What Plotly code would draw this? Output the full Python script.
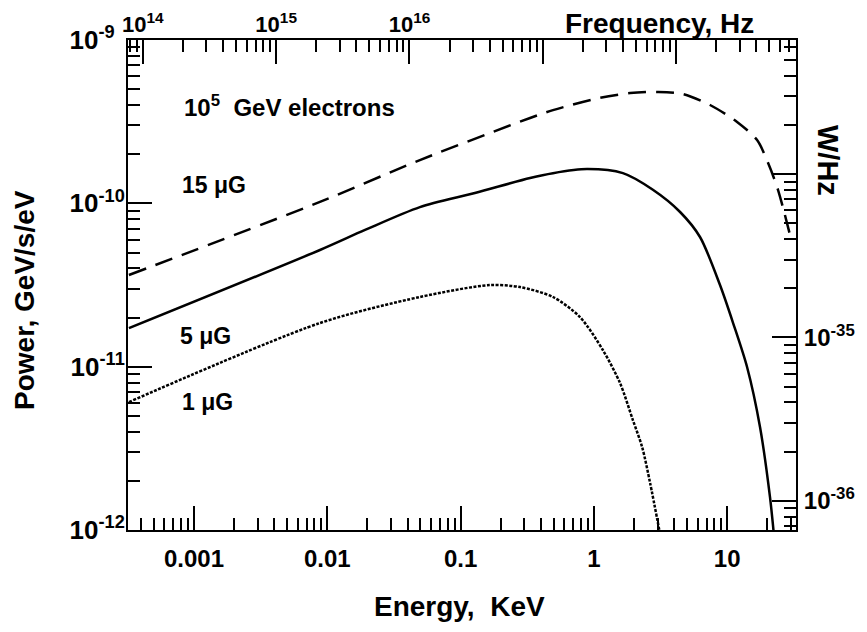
import plotly.graph_objects as go

# photon energy (keV) and emitted power (GeV/s/eV)
E_15UG = [3.25e-4, 8.81e-3, 0.0495, 0.332, 0.493, 1.11, 1.87, 3.03, 4.66, 7.43, 11.86, 16.75, 20.23, 24.04, 29.58]
P_15UG = [3.64e-11, 1.02e-10, 1.84e-10, 3.33e-10, 3.72e-10, 4.42e-10, 4.73e-10, 4.81e-10, 4.67e-10,
          4.00e-10, 3.15e-10, 2.44e-10, 1.77e-10, 1.21e-10, 6.40e-11]

E_5UG = [3.25e-4, 8.81e-3, 0.0192, 0.0495, 0.128, 0.332, 0.493, 0.887, 1.65, 2.77, 4.43, 6.25, 8.83,
         11.07, 14.09, 17.62, 20.94, 22.5]
P_5UG = [1.72e-11, 5.18e-11, 6.87e-11, 9.48e-11, 1.156e-10, 1.43e-10, 1.53e-10, 1.62e-10, 1.53e-10,
         1.21e-10, 8.85e-11, 6.22e-11, 3.16e-11, 1.85e-11, 9.95e-12, 4.27e-12, 1.59e-12, 9.0e-13]

E_1UG = [3.25e-4, 8.81e-3, 0.0495, 0.166, 0.279, 0.493, 0.787, 1.17, 1.57, 1.96, 2.30, 2.64, 3.13]
P_1UG = [6.07e-12, 1.85e-11, 2.67e-11, 3.16e-11, 3.07e-11, 2.67e-11, 2.01e-11, 1.26e-11, 7.94e-12,
         4.71e-12, 3.22e-12, 1.94e-12, 9.5e-13]

ENERGY_TICKS = [0.001, 0.01, 0.1, 1, 10]
ENERGY_LABELS = ["0.001", "0.01", "0.1", "1", "10"]
POWER_EXP = [-12, -11, -10, -9]
FREQ_EXP = [14, 15, 16, 17, 18]
FREQ_LABELED = [14, 15, 16]
WHZ_EXP = [-36, -35, -34]
WHZ_LABELED = [-36, -35]

KEV_TO_HZ = 2.418e17        # E = h nu
GEVSEV_TO_WHZ = 6.626e-25   # GeV/s/eV -> W/Hz

X_RANGE = [-3.495, 1.516]
Y_RANGE = [-12, -9]

FONT = dict(family="Liberation Sans", color="black", weight="bold")


def minor_vals(lo, hi):
    return [k * 10.0 ** n for n in range(int(lo) - 1, int(hi) + 2) for k in range(2, 10)]


def fnt(size):
    return dict(FONT, size=size)


def pow_label(e):
    # short exponents padded so the labels line up on the left like the original
    pad = "\u00a0\u00a0" if len(str(e)) < 3 else ""
    return "10<sup>%d%s</sup>" % (e, pad)


AX = dict(type="log", showline=True, linewidth=2, linecolor="black", ticks="inside", automargin=False,
          ticklen=24, tickwidth=2, tickcolor="black", showgrid=False, zeroline=False)
MINOR = dict(ticks="inside", ticklen=12, tickwidth=1.5, tickcolor="black", showgrid=False)

fx = [r + 17.3835 for r in X_RANGE]   # log10(Hz) = log10(keV) + log10(KEV_TO_HZ)
fy = [r - 24.179 for r in Y_RANGE]    # log10(W/Hz) = log10(GeV/s/eV) + log10(GEVSEV_TO_WHZ)

fig = go.Figure()
fig.add_trace(go.Scatter(x=E_15UG, y=P_15UG, mode="lines",
                         line=dict(color="black", width=2.5, dash="18px,10px", shape="spline", smoothing=0.8)))
fig.add_trace(go.Scatter(x=E_5UG, y=P_5UG, mode="lines",
                         line=dict(color="black", width=2.5, shape="spline", smoothing=0.8)))
fig.add_trace(go.Scatter(x=E_1UG, y=P_1UG, mode="lines",
                         line=dict(color="black", width=2.5, dash="3px,1.5px", shape="spline", smoothing=0.8)))
# empty trace so the frequency / W/Hz axes get drawn
fig.add_trace(go.Scatter(x=[None], y=[None], xaxis="x2", yaxis="y2", showlegend=False, hoverinfo="skip"))

# page body has an 8px margin, so the figure is 8px smaller than the window
fig.update_layout(
    width=859, height=624,
    margin=dict(l=120, r=71, t=32, b=102),
    paper_bgcolor="white", plot_bgcolor="white",
    showlegend=False,
    font=fnt(20),
    xaxis=dict(AX, range=X_RANGE, tickvals=ENERGY_TICKS, ticktext=ENERGY_LABELS, tickfont=fnt(24),
               ticklabelstandoff=6,
               minor=dict(MINOR, tickvals=minor_vals(*X_RANGE))),
    yaxis=dict(AX, range=Y_RANGE, tickvals=[10.0 ** e for e in POWER_EXP],
               ticktext=[pow_label(e) for e in POWER_EXP], tickfont=fnt(26),
               ticklabelstandoff=-4,
               minor=dict(MINOR, tickvals=minor_vals(*Y_RANGE))),
    xaxis2=dict(AX, overlaying="x", side="top", anchor="y", range=fx,
                tickvals=[10.0 ** e for e in FREQ_EXP],
                ticktext=["10<sup>%d</sup>" % e if e in FREQ_LABELED else "" for e in FREQ_EXP],
                tickfont=fnt(22), ticklabelstandoff=-3,
                minor=dict(MINOR, tickvals=minor_vals(*fx))),
    yaxis2=dict(AX, overlaying="y", side="right", anchor="x", range=fy,
                tickvals=[10.0 ** e for e in WHZ_EXP],
                ticktext=["10<sup>%d</sup>" % e if e in WHZ_LABELED else "" for e in WHZ_EXP],
                tickfont=fnt(24), ticklabelstandoff=1,
                minor=dict(MINOR, tickvals=minor_vals(*fy))),
)

ann = [
    ("10<sup>5</sup>\u00a0 GeV electrons", 0.081, 0.865, "left", 0, 24),
    ("15 \u03bcG", 0.078, 0.704, "left", 0, 23),
    ("5 \u03bcG", 0.075, 0.396, "left", 0, 23),
    ("1 \u03bcG", 0.078, 0.261, "left", 0, 23),
    ("Frequency, Hz", 0.796, 1.033, "center", 0, 28),
    ("W/Hz", 1.048, 0.755, "center", 90, 29),
    ("Energy,\u00a0 KeV", 0.497, -0.157, "center", 0, 28),
    ("Power, GeV/s/eV", -0.156, 0.469, "center", -90, 28),
]
for text, x, y, xa, ang, size in ann:
    fig.add_annotation(text=text, x=x, y=y, xref="paper", yref="paper", xanchor=xa, yanchor="middle",
                       textangle=ang, showarrow=False, font=fnt(size))

fig.write_html("out.html")
